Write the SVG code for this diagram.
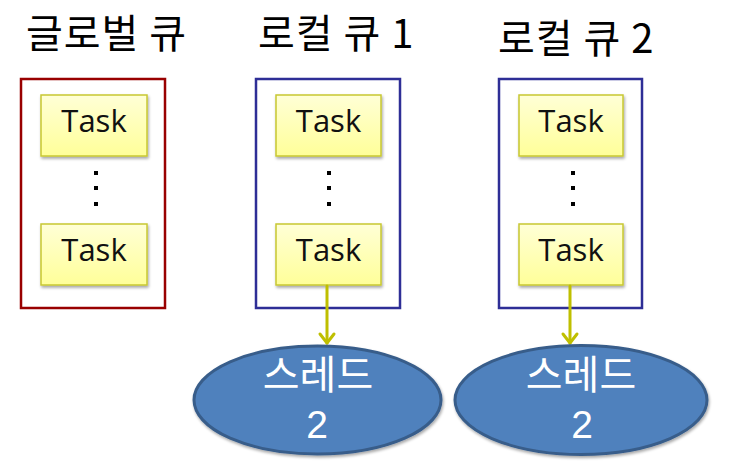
<svg xmlns="http://www.w3.org/2000/svg" width="744" height="473" viewBox="0 0 744 473">
<defs>
<linearGradient id="taskGrad" x1="0" y1="0" x2="0" y2="1">
<stop offset="0" stop-color="#FFFFD6"/>
<stop offset="1" stop-color="#FFFF99"/>
</linearGradient>
<filter id="shadow" x="-10%" y="-10%" width="130%" height="140%">
<feGaussianBlur in="SourceAlpha" stdDeviation="1.5"/>
<feOffset dx="1" dy="2" result="b"/>
<feComponentTransfer><feFuncA type="linear" slope="0.35"/></feComponentTransfer>
<feMerge><feMergeNode/><feMergeNode in="SourceGraphic"/></feMerge>
</filter>
</defs>
<style>
.title{font-family:"Noto Sans CJK KR","Noto Sans",sans-serif;font-size:40px;fill:#000;letter-spacing:1px}
.queue{fill:#fff;stroke-width:2.5}
.red{stroke:#990000}
.blue{stroke:#2E2E96}
.task{fill:url(#taskGrad);stroke:#C8C832;stroke-width:1.5;filter:url(#shadow)}
.tt{font-family:"Open Sans","Noto Sans",sans-serif;font-size:31px;fill:#111;text-anchor:middle}
.dot{fill:#000}
.conn{stroke:#BFBF00;stroke-width:3;fill:none;stroke-linecap:round;stroke-linejoin:round}
.thread{fill:#4F81BD;stroke:#385D8A;stroke-width:3;filter:url(#shadow)}
.th{font-family:"Noto Sans CJK KR","Noto Sans",sans-serif;font-size:40px;fill:#fff;text-anchor:middle}
.num{font-family:"Liberation Sans",Arial,sans-serif;font-size:39px;fill:#fff;text-anchor:middle}
</style>
<rect width="744" height="473" fill="#fff"/>

<g id="title-global"><text class="title" x="26" y="48">글로벌 큐</text></g>
<g id="title-local1"><text class="title" x="258" y="48">로컬 큐 1</text></g>
<g id="title-local2"><text class="title" x="498" y="53">로컬 큐 2</text></g>

<g id="global-queue">
<rect class="queue red" x="21" y="79" width="144" height="229"/>
<rect class="task" x="41" y="95" width="106" height="61"/>
<text class="tt" x="94" y="132">Task</text>
<rect class="dot" x="94" y="171" width="4" height="4"/>
<rect class="dot" x="94" y="186" width="4" height="4"/>
<rect class="dot" x="94" y="202" width="4" height="4"/>
<rect class="task" x="41" y="224" width="106" height="61"/>
<text class="tt" x="94" y="261">Task</text>
</g>

<g id="local-queue-1">
<rect class="queue blue" x="256" y="79" width="144" height="229"/>
<rect class="task" x="276" y="95" width="105" height="61"/>
<text class="tt" x="328.5" y="132">Task</text>
<rect class="dot" x="327" y="171" width="4" height="4"/>
<rect class="dot" x="327" y="186" width="4" height="4"/>
<rect class="dot" x="327" y="202" width="4" height="4"/>
<rect class="task" x="276" y="224" width="105" height="61"/>
<text class="tt" x="328.5" y="261">Task</text>
</g>

<g id="local-queue-2">
<rect class="queue blue" x="499" y="79" width="143" height="229"/>
<rect class="task" x="519" y="95" width="104" height="61"/>
<text class="tt" x="571" y="132">Task</text>
<rect class="dot" x="571" y="171" width="4" height="4"/>
<rect class="dot" x="571" y="186" width="4" height="4"/>
<rect class="dot" x="571" y="202" width="4" height="4"/>
<rect class="task" x="519" y="224" width="104" height="61"/>
<text class="tt" x="571" y="261">Task</text>
</g>

<g id="connectors">
<line class="conn" x1="327" y1="286" x2="327" y2="343"/>
<polyline class="conn" points="320,334 327,343 334,334"/>
<line class="conn" x1="570" y1="286" x2="570" y2="343"/>
<polyline class="conn" points="563,334 570,343 577,334"/>
</g>

<g id="thread-1">
<ellipse class="thread" cx="317.5" cy="400" rx="123.5" ry="54"/>
<text class="th" x="318" y="389">스레드</text>
<text class="num" x="317" y="438">2</text>
</g>
<g id="thread-2">
<ellipse class="thread" cx="581" cy="400" rx="126" ry="54.5"/>
<text class="th" x="581" y="389">스레드</text>
<text class="num" x="582" y="438">2</text>
</g>
</svg>
